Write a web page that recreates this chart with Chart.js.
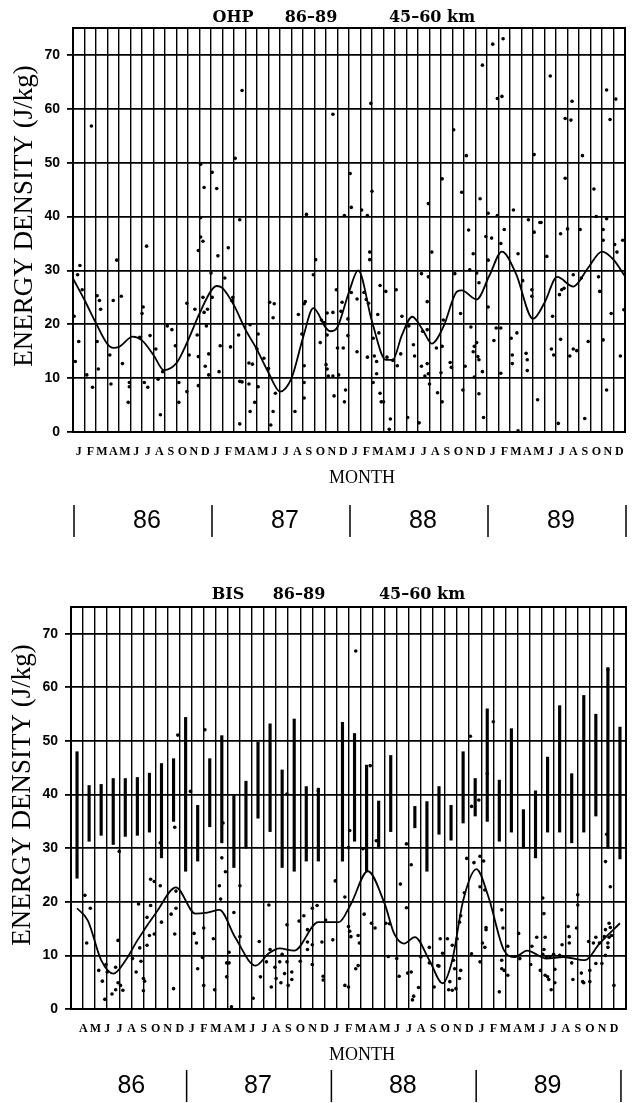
<!DOCTYPE html>
<html>
<head>
<meta charset="utf-8">
<script src="https://cdn.jsdelivr.net/npm/chart.js@4.4.1/dist/chart.umd.min.js"></script>
<style>
  body { margin: 0; background: #fff; width: 638px; height: 1103px; overflow: hidden; position: relative; }
  canvas { position: absolute; left: 0; }
</style>
</head>
<body>
<canvas id="ohp" width="638" height="550" style="top:0"></canvas>
<canvas id="bis" width="638" height="553" style="top:550px"></canvas>
<script>
// ---- data (months counted from the first month shown in each panel) ----
const monthLetters = ['J','F','M','A','M','J','J','A','S','O','N','D'];
const yearLabels = ['86','87','88','89'];
const energyTicks = [0,10,20,30,40,50,60,70];

// OHP: Jan 1986 .. Dec 1989
const ohpFirstMonth = 0;
const ohpMonthCount = 48;
// smoothed curve [month, J/kg]
const ohpCurve = [
  [0,28.5],[1,24.5],[2,20.2],[3,16.3],[3.5,15.6],[4,15.8],[5.2,17.7],[6,17],[7,14.3],[7.9,11.5],
  [9,12.8],[10,17],[11,22],[12,26.2],[12.5,27.1],[13,26.7],[14,23.5],[15,19],[16,15.3],[17,11],
  [18,7.5],[19,10],[20,17.5],[20.9,23],[22,19.3],[22.4,18.7],[23,19.5],[24,26],[24.8,30],[26,20.5],
  [27.2,13.4],[27.8,13.4],[28.6,18],[29.5,21.4],[30.4,19],[31.2,16.4],[32.2,19.5],[33.4,26.1],[33.8,26.3],
  [35.1,24.6],[36.2,29],[37.3,33.5],[38.5,29.5],[40,21],[41,24],[42.1,28.8],[43.5,27],[44.8,30.5],
  [46,33.5],[47,32],[48,28.9]
];
// individual measurements [month, J/kg]
const ohpDots = [
  [1.6,56.8],[14.7,63.4],[11.1,49.7],[12.1,48.2],[11.4,45.4],[12.5,45.2],[14.1,50.8],[11.1,39.8],[14.5,39.4],[20.3,40.4],
  [36.5,72],[37.4,73],[35.6,68.1],[41.5,66.1],[46.4,63.5],[47.2,61.8],[36.9,61.9],[37.3,62.3],[43.4,61.4],[25.9,61],
  [22.6,59],[42.8,58.2],[43.3,57.9],[46.7,58],[33.1,56.1],[34.2,51.3],[40.1,51.5],[44.3,51.3],[24.1,48],[32.1,47],
  [42.8,47.1],[26,44.7],[33.8,44.5],[45.3,45.1],[24.2,41.7],[25.1,41.2],[35.4,43.3],[38.3,41.2],[23.6,40.2],[25.6,40.2],
  [30.9,42.4],[36.1,40.6],[36.9,40.2],[39.6,39.4],[40.6,38.9],[45.5,40],[46.4,39.6],
  [0.6,30.9],[0.4,29.2],[0.1,21.5],[0.5,16.8],[0.2,13.1],[1.2,10.6],[1.7,8.3],[0.8,26.4],[2.1,25.3],[2.3,24.4],
  [2.4,22.8],[2.1,16.8],[2.2,11.7],[3.2,14.3],[3.3,8.9],[3.5,24.4],[3.8,31.9],[4.2,25.2],[4.3,12.7],[4.8,5.5],
  [4.9,9.2],[4.9,8.4],[6.1,23.2],[6,22],[5.8,17.6],[6.7,17.9],[6.4,34.5],[6.2,9.2],[6.5,8.3],[7.2,15.4],
  [7.4,9.8],[7.6,3.2],[7.8,11.2],[8.2,19.7],[8.6,19],[8.9,16],[9.2,9.2],[9.2,5.5],[9.9,7.5],[9.9,23.9],
  [10.1,14.3],[10.6,22.8],[10.9,33.7],[11.1,36.2],[11.3,35.4],[10.8,18],[10.9,14],[10.9,8.6],[11.3,25],[11.4,22.2],
  [11.6,19.7],[11.7,22.8],[11.8,14.5],[11.5,12.2],[11.8,10.6],[12,29.5],[12.6,32.7],[12.1,25],[12.7,11.2],[12.8,16],
  [13.5,34.2],[13.2,28.6],[13.8,24.4],[13.7,15.8],[13.9,25],[14.4,18],[14.5,9.4],[14.5,1.5],[14.7,9.3],[15.4,19.9],
  [15.3,12.8],[15.3,8.9],[15.4,3.8],[15.6,12.6],[15.8,5.5],[16,15.4],[16.1,8.4],[16.1,18.2],[16.6,13.7],[17,11.8],
  [17.1,24.1],[17.4,21.2],[17.4,3.8],[17.2,1.3],[17.5,23.8],[17.6,7.2],[19.3,3.8],[19.6,21.8],[19.9,18.2],[20.1,23.8],
  [20.2,24.2],[20.1,12.3],[20.1,9.2],[20.1,6.3],[20.9,29.2],[21.1,32],
  [22,12.5],[22.1,11.7],[22.2,10.4],[22.6,10.4],[22.7,6.7],[21.6,20.8],[22.1,22.1],[21.8,20.3],[21.5,16.6],[22.1,18],
  [22.6,22.2],[22.9,26.4],[23,15.6],[23.1,10.6],[23.4,24.1],[23.5,15.6],[23.7,7.8],[23.6,5.6],[23.3,22.4],[23.9,21],
  [23.9,17.9],[24.2,25.9],[24.7,24.7],[24.7,14.9],[25.3,25.9],[25.5,24.6],[25.7,23.9],[25.6,13.9],[25.8,33.4],[25.8,32],
  [26.1,9.2],[26.1,17.4],[26.2,14.1],[26.4,10.8],[26.4,13.1],[26.5,21.8],[26.6,18.4],[26.7,7.2],[26.8,5.6],[27,5.6],
  [26.7,27.2],[27.2,26.1],[27.3,13.9],[27.6,2.4],[27.5,0.5],[27.8,13.3],[28.1,26.4],[28.6,21.5],[28.5,14.5],[28.2,12.3],
  [29.1,2.7],[29.2,19.7],[29.6,16.2],[29.7,14.1],[30.1,1.7],[30.3,29.4],[30.4,18.7],[30.3,12.2],[30.6,10.4],[30.8,12.7],
  [30.9,28.8],[30.8,24.2],[30.8,19],[30.9,10.8],[31,8.9],[31.2,33.4],[31.6,15.6],[31.7,7.3],[32,11],[32.1,5.6],
  [32.1,15.9],[32.2,20.8],[32.8,12.9],[32.9,12],[33.2,29.4],[33.7,22],[33.9,7.8],[34.1,12.2],[34.4,37.5],[34.5,30.1],
  [34.6,19.5],[34.8,33.1],[34.9,15.9],[34.8,14.9],[35.1,29.5],[34.9,10.2],[35.1,16.6],[35.2,14],[35.3,13.4],[35.3,7.1],
  [35.3,27.7],[35.6,11.2],[35.7,2.7],[35.9,36.3],[36.1,23.2],[36.1,31.9],[36.4,36],[36.6,17],[36.8,19.3],[37.2,19.3],
  [37.2,35],[37.2,10.9],[37.5,37.6],[38.1,17.4],[38.2,14.3],[38.2,12.7],[38.6,18.4],[38.7,33.1],[38.7,0.2],[39.1,28.1],
  [39.4,14.6],[39.5,13.4],[39.5,11.4],[39.9,26.4],[39.9,25.2],[40.1,37.1],[40.4,6],[40.7,38.9],[41.2,32.6],[41.7,21.5],
  [41.6,15.4],[41.8,14.3],[42.2,1.6],[42.4,36.8],[42.5,26.4],[42.3,25.5],[42.4,17.2],[42.7,26.7],[43,37.7],[43.2,14.1],
  [43.5,15.4],[43.5,29.2],[43.8,15.1],[44.1,37.6],[44.2,28.6],[44.5,2.5],[44.8,16.8],[45.7,28.8],[45.8,26.1],[46.1,37.6],
  [46.1,35.6],[46.1,17.1],[46.4,7.8],[46.8,22],[47.1,34.8],[47.3,33.4],[47.8,35.6],[47.6,14.1],[47.9,22.7]
];

// BIS: Apr 1986 .. Dec 1989
const bisFirstMonth = 3;
const bisMonthCount = 45;
const bisCurve = [
  [0,18.8],[0.9,16.5],[2,9.1],[3,6.6],[4,9],[5,12.8],[6.65,18.3],[8.2,22.7],[9.8,17.8],[10.8,18],
  [11.8,18.5],[13.1,13.4],[14.8,8.1],[15.9,10.4],[16.8,11.3],[18,10.9],[20,16.2],[21.7,16.2],[22.7,19.6],
  [24.1,25.7],[25.5,19.6],[26.3,14],[27.1,12.2],[28,13.4],[29.2,9.1],[30.3,4.8],[31.1,9.1],[32,20.2],
  [33.1,26.1],[34.1,20.9],[35.4,10.9],[36.3,9.7],[37.3,10.9],[38.9,9.4],[40.3,9.7],[42.1,9.1],[43.3,12.2],[45,16]
];
const bisDots = [
  [8.35,51.1],[10.6,52.1],[9.4,40.6],[17.4,40.1],[23.1,66.8],[24.3,45.4],[32.6,50.9],[34.5,53.6],[34,43.9],[44,63.3],[20,40.7],[12.1,34.7],
  [0.65,21.2],[1.1,18.8],[0.8,12.3],[1.8,7.2],[2.1,5.2],[2.3,1.8],[2.4,8.3],[2.5,6.9],[2.9,2.8],[3.2,7.8],
  [3.2,3.6],[3.4,12.8],[3.5,29.4],[3.4,4.9],[3.6,4.4],[3.8,3.5],[4.6,9.4],[4.9,6.9],[5.1,19.6],[5.3,8.9],
  [5.2,11.4],[5.5,5.7],[5.6,5.2],[5.5,3.4],[5.8,17.1],[5.8,11.9],[6,13.7],[6.1,19.3],[6.1,24.2],[6.4,14],
  [6.4,23.8],[6.9,31],[6.9,23],[7,16.2],[7.8,17.7],[8,3.8],[8.1,33.9],[8.2,22],[8.2,18.8],[8.1,14],
  [9.9,12.3],[9.7,14.1],[10,7.5],[10.4,9.6],[10.5,15.1],[10.5,4.4],[11.3,13.1],[11.4,3.6],[11.8,23],[11.9,20.5],
  [12,28.2],[12.3,25.6],[12.4,8.6],[12.6,8.6],[12.4,6],[12.8,0.4],[12.6,10.6],[13,18],[13.5,23],[13.5,13.5],
  [14.6,2],[15.1,12.6],[15.2,6],[15.7,8.8],[15.9,19.4],[16,11.1],[16.1,4.1],[16.4,7.8],[16.5,5.7],[16.8,8.8],
  [16.9,4.9],[17,10.2],[17.2,6.6],[17.4,15.7],[17.4,8.8],[17.5,4.4],[17.8,6.9],[17.8,5.5],[18.4,16.4],[18.5,8.9],
  [18.8,17.4],[19.1,14.8],[19.1,12.5],[19.1,11.1],[19.5,18.8],[19.5,12],[19.5,8.3],[19.9,19.3],
  [22.6,33.3],[22.5,30.1],[23.7,29.9],[24.8,31.4],[27.3,30.8],[27.7,26.9],[21.4,23.9],[22.2,20.9],[20.6,16.6],[20.3,12.5],
  [21.2,12.9],[22.5,15.4],[22.6,14.5],[22.7,13.5],[23.3,13.7],[23.4,12.3],[23.1,7.5],[23.8,17.7],[23.3,8.1],[20.4,6.1],
  [20.4,5.4],[22.2,4.4],[22.5,4.1],[24.4,16],[24.7,15.1],[25.6,16],[25.9,15.9],[26.8,23.3],[27.3,18.9],[25.8,9.8],
  [26.5,9.4],[26.7,6.1],[27.4,6.7],[27.7,6.9],[27.9,2.4],[27.8,1.7],[28.3,4],[28.5,9.7],[29.2,11.5],[29.2,8.6],
  [29.6,4.1],[29.9,8.1],[30,8],[30.1,13.1],[30.3,10.4],[30.7,13.1],[30.8,3.6],[30.9,5.1],[31.1,11.9],[31.1,3.5],
  [31.2,9.1],[31.3,7.5],[31.4,3.8],[31.5,13.1],[31.7,5.7],[31.8,7.2],[31.7,16.2],[31.8,17.4],[32.1,21.7],[32.3,28.1],
  [32.7,37.8],[32.9,27.3],[33.4,28.5],[33.7,27.6],[33.3,39],[32.7,10.3],[33.4,22.8],[33.8,22.2],[33.9,15.2],[33.9,14.8],
  [33.4,8.8],[33.6,12.3],[33.8,11.5],[35.2,18.5],[35.3,15.1],[35.2,9.1],[35.2,7.5],[35.4,7.2],[35.7,6.3],[35,3.2],
  [35.7,11.7],[36.6,14.1],[36.7,9.4],[37.6,8.3],[37.7,11.7],[38.1,13.4],[38.6,20.7],[38.7,17.8],[38.8,13.4],[38.7,11.1],
  [38.6,10.2],[38.4,7.2],[38.8,6.3],[39,6],[39.1,5.5],[39.3,3.6],[38.9,9.7],[39.2,9.7],[39.5,10.2],[39.6,7.4],
  [39.6,4.9],[40,10],[40.2,12],[40.8,13.5],[40.7,15.4],[40.8,12.3],[41,8.6],[41.1,5.5],[41.4,15.1],[41.5,21.3],
  [41.5,19.4],[41.8,6.7],[41.9,5.1],[42,4.9],[42.4,12.6],[42.5,5.1],[42.5,7.2],[42.8,12.3],[43,13.4],[43,8.5],
  [43.3,12.3],[43.5,8.5],[43.8,27.5],[43.9,32.6],[43.7,13.5],[43.8,14.8],[44,12.3],[44,11.5],[44.1,16],[44.2,22.8],
  [44.2,15.2],[44.3,13.7],[44.5,4.4],[43.8,10],[44.1,13.4]
];
// monthly ranges [month, low, high]
const bisRanges = [
  [0,24.4,48],[1,31.3,41.7],[2,32.4,41.9],[3,30.7,43],[4,32.2,43],[5,32.4,43.2],[6,33,44],[7,28.2,45.8],
  [8,35,46.7],[9,25.7,54.4],[10,27.6,38],[11,34,46.7],[12,31,51],[13,26.4,39.8],[14,30,42.5],[15,35.6,49.8],
  [16,33.1,53.2],[17,26.4,44.6],[18,25.7,54.1],[19,27.6,41.5],[20,27.6,41.2],[22,27.6,53.5],[23,31.3,51.4],
  [24,25.7,45.5],[25,30,38.8],[26,33.1,47.3],[28,33.8,37.8],[29,25.7,38.7],[30,32.6,41.5],[31,31.5,38],
  [32,34.7,48],[33,36,43],[34,35,56],[35,31.3,42.7],[36,33,52.3],[37,30,37.2],[38,28.2,40.7],[39,33,47],
  [40,33,56.6],[41,31,43.9],[42,33,58.5],[43,36,55],[44,30,63.7],[45,28,52.6]
];

// ---- drawing ----
const ink = '#000';

// frame, titles, month caption and year row
function panelDecor(o) {
  return {
    id: 'panelDecor',
    afterDraw(chart) {
      const c = chart.ctx, a = chart.chartArea, xs = chart.scales.x;
      c.save();
      c.strokeStyle = ink; c.fillStyle = ink;
      c.lineWidth = 2;
      c.strokeRect(a.left, a.top, a.right - a.left, a.bottom - a.top);
      c.textAlign = 'center'; c.textBaseline = 'middle';

      c.font = 'bold 16px "DejaVu Serif"';
      o.title.forEach(p => c.fillText(p[0], p[1], o.titleY));

      c.save();
      c.translate(o.yTitleX, o.yTitleY);
      c.rotate(-Math.PI / 2);
      c.font = '27px "Liberation Serif"';
      c.fillText('ENERGY DENSITY (J/kg)', 0, 0);
      c.restore();

      c.font = '18px "Liberation Serif"';
      c.fillText('MONTH', 362, a.bottom + o.monthDy);

      c.font = '25px "Liberation Sans"';
      c.lineWidth = 1.5;
      yearLabels.forEach((yl, k) => {
        const start = k * 12 - o.first;
        const s = Math.max(start, 0), e = Math.min(start + 12, o.count);
        c.fillText(yl, xs.getPixelForValue((s + e) / 2) + o.yearShift, a.bottom + o.yearDy);
      });
      for (let k = 0; k <= yearLabels.length; k++) {
        const b = k * 12 - o.first;
        if (b < 0 || b > o.count) continue;
        const px = xs.getPixelForValue(b) + 1;
        c.beginPath();
        c.moveTo(px, a.bottom + o.yearDy - 16);
        c.lineTo(px, a.bottom + o.yearDy + 16);
        c.stroke();
      }
      c.restore();
    }
  };
}

function makePanel(id, o) {
  const datasets = [];
  if (o.ranges) {
    datasets.push({
      type: 'bar',
      data: o.ranges.map(r => ({ x: r[0], y: [r[1], r[2]] })),
      backgroundColor: ink,
      barThickness: 2.5,
      grouped: false
    });
  }
  datasets.push({
    type: 'scatter',
    data: o.dots.map(d => ({ x: d[0], y: d[1] })),
    pointRadius: 1.8,
    pointBorderWidth: 0,
    pointBackgroundColor: ink
  });
  datasets.push({
    type: 'line',
    data: o.curve.map(d => ({ x: d[0], y: d[1] })),
    showLine: true,
    borderColor: ink,
    borderWidth: 1.8,
    pointRadius: 0,
    cubicInterpolationMode: 'monotone',
    fill: false
  });

  const monthTicks = [];
  for (let m = 0; m <= o.count; m++) monthTicks.push({ value: m });

  return new Chart(document.getElementById(id), {
    type: 'scatter',
    data: { datasets },
    options: {
      responsive: false,
      animation: false,
      events: [],
      layout: { padding: { top: o.top, right: o.right, left: 0, bottom: 0 } },
      plugins: { legend: { display: false }, tooltip: { enabled: false } },
      scales: {
        x: {
          type: 'linear', min: 0, max: o.count,
          afterBuildTicks: s => { s.ticks = monthTicks.map(t => ({ value: t.value })); },
          afterFit: s => { s.height = o.xHeight; },
          grid: { color: ink, lineWidth: 1.4, drawTicks: false },
          border: { color: ink, width: 2 },
          ticks: {
            autoSkip: false, maxRotation: 0, minRotation: 0,
            padding: 13,
            labelOffset: o.halfMonth,
            color: ink,
            font: { family: 'Liberation Serif', weight: 'bold', size: 12 },
            callback: (v, i) => i < o.count ? monthLetters[(i + o.first) % 12] : ''
          }
        },
        y: {
          type: 'linear', min: 0, max: 75,
          afterBuildTicks: s => { s.ticks = energyTicks.map(v => ({ value: v })); },
          afterFit: s => { s.width = o.left; },
          grid: { color: ink, lineWidth: 1.8, tickLength: 6 },
          border: { color: ink, width: 2 },
          ticks: {
            padding: 7, color: ink,
            font: { family: 'Liberation Sans', weight: 'bold', size: 14 }
          }
        }
      }
    },
    plugins: [panelDecor(o)]
  });
}

makePanel('ohp', {
  dots: ohpDots, curve: ohpCurve, first: ohpFirstMonth, count: ohpMonthCount,
  top: 28, right: 8, left: 73, xHeight: 118, halfMonth: 5.8,
  title: [['OHP', 233], ['86\u201389', 311], ['45\u201360 km', 432]], titleY: 18,
  yTitleX: 25, yTitleY: 216, monthDy: 46, yearDy: 89, yearShift: 5
});

makePanel('bis', {
  dots: bisDots, curve: bisCurve, ranges: bisRanges, first: bisFirstMonth, count: bisMonthCount,
  top: 57, right: 12, left: 71, xHeight: 94, halfMonth: 6.2,
  title: [['BIS', 228], ['86\u201389', 299], ['45\u201360 km', 422]], titleY: 45,
  yTitleX: 23, yTitleY: 245, monthDy: 46, yearDy: 77, yearShift: 0
});
</script>
</body>
</html>
